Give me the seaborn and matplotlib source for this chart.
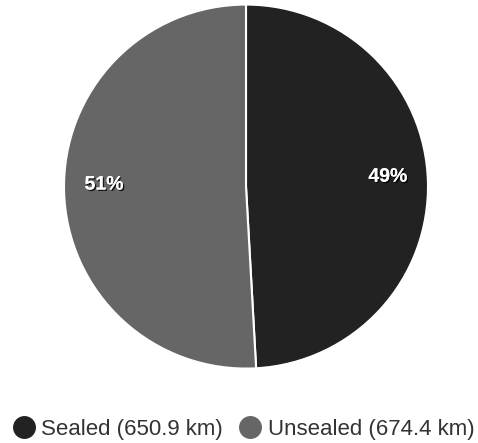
import matplotlib
matplotlib.use("Agg")
import matplotlib.pyplot as plt
import matplotlib.patheffects as pe
from matplotlib.lines import Line2D
import numpy as np
import seaborn as sns

categories = ["Sealed", "Unsealed"]
lengths_km = [650.9, 674.4]
colors = ["#222222", "#666666"]

sns.set_theme(style="white")
plt.rcParams["font.family"] = ["Liberation Sans", "DejaVu Sans"]

fig = plt.figure(figsize=(4.78, 4.43), dpi=100)
fig.patch.set_facecolor("white")
ax = fig.add_axes([0.1339, 0.168, 0.7615, 0.8217])

total = sum(lengths_km)
wedges, _ = ax.pie(
    lengths_km,
    colors=colors,
    startangle=90,
    counterclock=False,
    radius=1.0,
    wedgeprops=dict(edgecolor="white", linewidth=1.5),
)

# percentage labels placed along each wedge's mid-angle
for w, v in zip(wedges, lengths_km):
    ang = np.deg2rad((w.theta1 + w.theta2) / 2)
    r = 0.78
    ax.text(
        r * np.cos(ang), r * np.sin(ang) + 0.03,
        f"{round(v / total * 100)}%",
        ha="center", va="center", color="white",
        fontsize=14, fontweight="bold",
        path_effects=[pe.withSimplePatchShadow(offset=(1, -1), shadow_rgbFace="black", alpha=0.8), pe.Normal()],
    )

ax.set_xlim(-1.0, 1.0)
ax.set_ylim(-1.0, 1.0)
ax.set_aspect("equal")
ax.axis("off")

handles = [
    Line2D([0], [0], marker="o", linestyle="none", markersize=15.5,
           markerfacecolor=c, markeredgecolor=c)
    for c in colors
]
labels = [f"{c} ({v} km)" for c, v in zip(categories, lengths_km)]
fig.legend(
    handles, labels, loc="center", bbox_to_anchor=(0.507, 1 - 429 / 443),
    ncol=2, frameon=False, fontsize=16, handletextpad=0.2,
    handlelength=1.2, columnspacing=0.6, labelcolor="#333333",
)

fig.savefig("out.png", dpi=100, facecolor="white")
